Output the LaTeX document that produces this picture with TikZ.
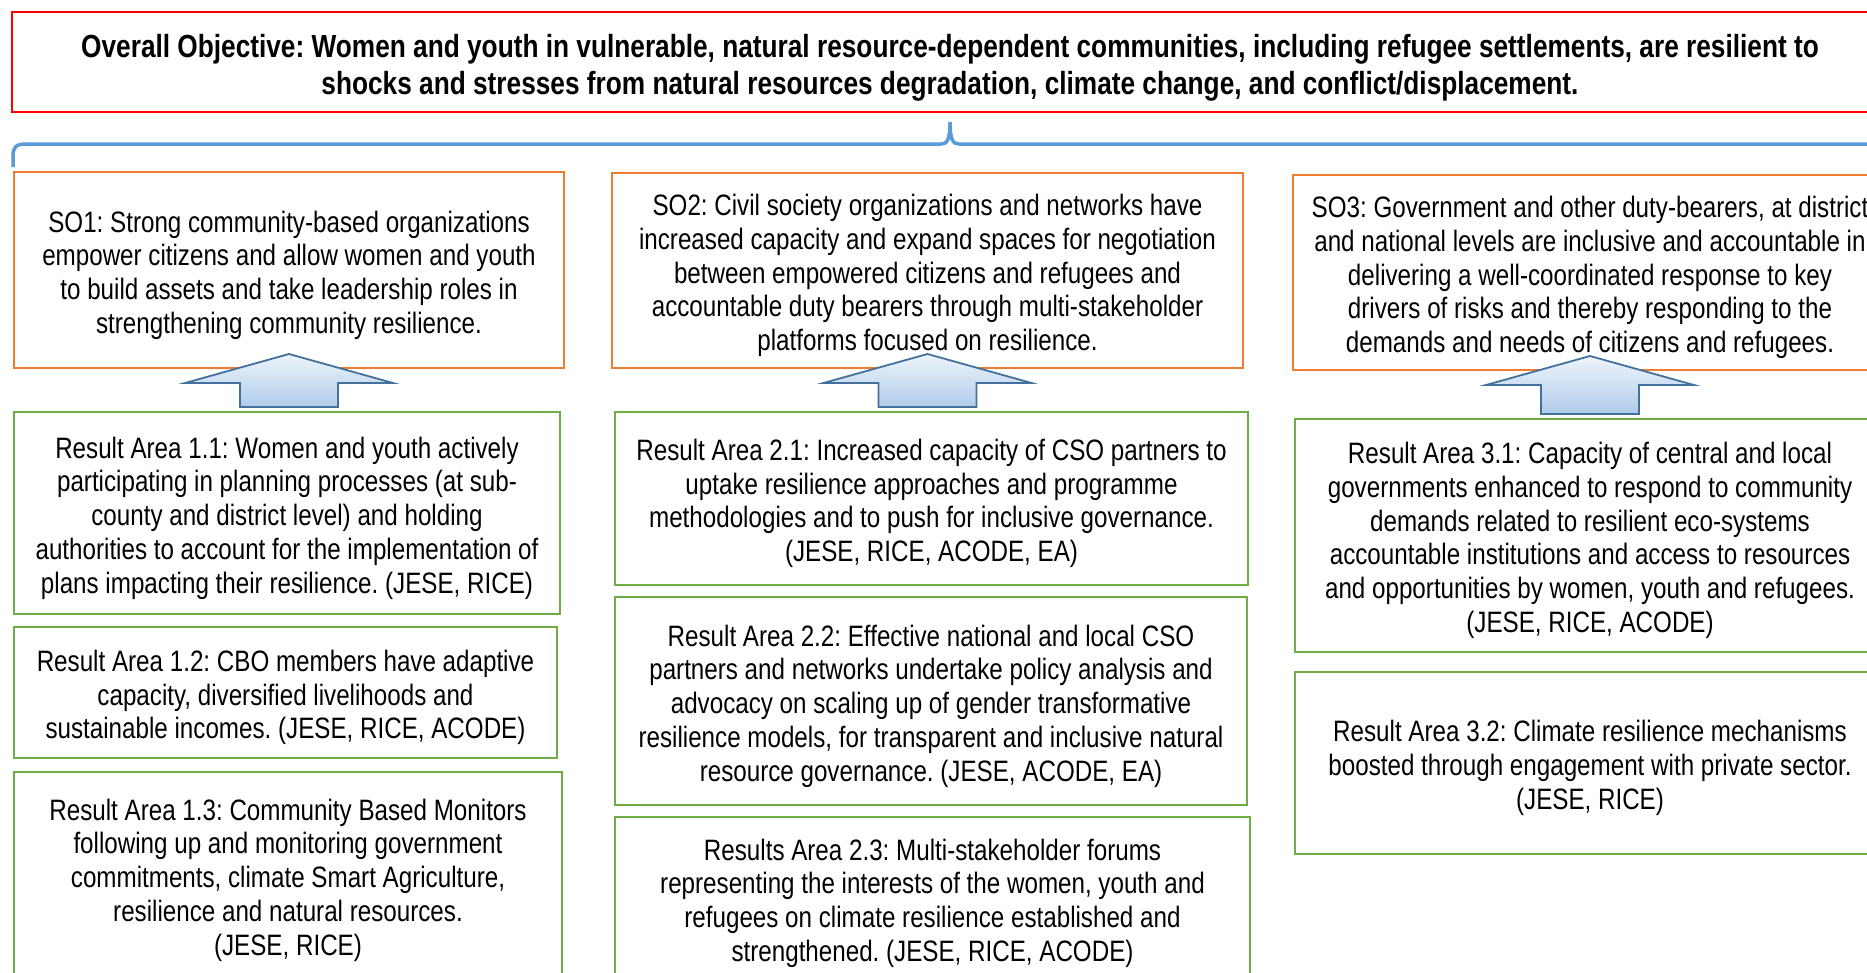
\documentclass[tikz,border=0pt]{standalone}
\usepackage{fontspec}
\setmainfont{Liberation Sans}[FakeStretch=0.82]
\usetikzlibrary{calc}
\frenchspacing

\definecolor{objred}{HTML}{FF0000}
\definecolor{soorange}{HTML}{ED7D31}
\definecolor{ragreen}{HTML}{70AD47}
\definecolor{braceblue}{HTML}{5B9BD5}
\definecolor{arrowedge}{HTML}{41719C}
\definecolor{arrowtop}{HTML}{EEF4FB}
\definecolor{arrowbottom}{HTML}{B0CCEA}

\newcommand\rabodyfont{\fontsize{29.5}{33.7}\selectfont}
\newcommand\objtitlefont{\fontsize{32}{37}\selectfont\bfseries}

% block arrow pointing up from the result area (#1) to the objective box (#2)
\newcommand\upblock[2]{%
  \path[upshade] let \p1=($(#1.north)+(0,4)$), \p2=($(#2.south)+(0,15)$) in
    (\x2-49pt,\y1) -- (\x2-49pt,\y2-29pt) -- (\x2-104pt,\y2-29pt) -- (\x2,\y2)
    -- (\x2+104pt,\y2-29pt) -- (\x2+49pt,\y2-29pt) -- (\x2+49pt,\y1) -- cycle;}

\begin{document}
\begin{tikzpicture}[x=1pt,y=1pt,
  frame/.style={rectangle, line width=2pt, inner sep=0pt},
  objective/.style={frame, draw=objred},
  sobox/.style={frame, draw=soorange},
  rabox/.style={frame, draw=ragreen},
  boxtext/.style={align=center, inner sep=0pt, font=\rabodyfont},
  titletext/.style={align=center, inner sep=0pt, font=\objtitlefont},
  upshade/.style={draw=arrowedge, line width=1.8pt, top color=arrowtop,
    bottom color=arrowbottom, line join=miter},
  bracket/.style={draw=braceblue, line width=3.5pt}]

\useasboundingbox (0,0) rectangle (1867,-972);
\clip (0,0) rectangle (1867,-972);

% overall objective
\node[objective, minimum width=1876pt, minimum height=100pt] (obj) at (950,-62) {};
\node[titletext] (obj-t) at ($(obj.center)+(0,-6)$)
  {Overall Objective: Women and youth in vulnerable, natural resource-dependent communities, including refugee settlements, are resilient to\\
   shocks and stresses from natural resources degradation, climate change, and conflict/displacement.};

% brace under the objective
\draw[bracket] (13,-167) -- (13,-156) .. controls (13,-147) and (16,-144) .. (26,-144)
  -- (941,-144) .. controls (947,-144) and (950,-140) .. (950,-122)
  .. controls (950,-140) and (953,-144) .. (959,-144) -- (1880,-144);

% strategic objectives
\node[sobox, minimum width=550pt, minimum height=196pt] (so1) at (289,-270) {};
\node[boxtext] (so1-t) at ($(so1.center)+(0,-5)$)
  {SO1: Strong community-based organizations\\
   empower citizens and allow women and youth\\
   to build assets and take leadership roles in\\
   strengthening community resilience.};
\node[sobox, minimum width=631pt, minimum height=195pt] (so2) at (927.5,-270.5) {};
\node[boxtext] (so2-t) at ($(so2.center)+(0,-5)$)
  {SO2: Civil society organizations and networks have\\
   increased capacity and expand spaces for negotiation\\
   between empowered citizens and refugees and\\
   accountable duty bearers through multi-stakeholder\\
   platforms focused on resilience.};
\node[sobox, minimum width=594pt, minimum height=195pt] (so3) at (1590,-272.5) {};
\node[boxtext] (so3-t) at ($(so3.center)+(0,-5)$)
  {SO3: Government and other duty-bearers, at district\\
   and national levels are inclusive and accountable in\\
   delivering a well-coordinated response to key\\
   drivers of risks and thereby responding to the\\
   demands and needs of citizens and refugees.};

% result areas, pillar 1
\node[rabox, minimum width=546pt, minimum height=202pt] (r11) at (287,-513) {};
\node[boxtext] (r11-t) at ($(r11.center)+(0,-5)$)
  {Result Area 1.1: Women and youth actively\\
   participating in planning processes (at sub-\\
   county and district level) and holding\\
   authorities to account for the implementation of\\
   plans impacting their resilience. (JESE, RICE)};
\node[rabox, minimum width=543pt, minimum height=131pt] (r12) at (285.5,-692.5) {};
\node[boxtext] (r12-t) at ($(r12.center)+(0,-5)$)
  {Result Area 1.2: CBO members have adaptive\\
   capacity, diversified livelihoods and\\
   sustainable incomes. (JESE, RICE, ACODE)};
\node[rabox, minimum width=548pt, minimum height=206pt] (r13) at (288,-875) {};
\node[boxtext] (r13-t) at ($(r13.center)+(0,-5)$)
  {Result Area 1.3: Community Based Monitors\\
   following up and monitoring government\\
   commitments, climate Smart Agriculture,\\
   resilience and natural resources.\\
   (JESE, RICE)};

% result areas, pillar 2
\node[rabox, minimum width=633pt, minimum height=173pt] (r21) at (931.5,-498.5) {};
\node[boxtext] (r21-t) at ($(r21.center)+(0,-5)$)
  {Result Area 2.1: Increased capacity of CSO partners to\\
   uptake resilience approaches and programme\\
   methodologies and to push for inclusive governance.\\
   (JESE, RICE, ACODE, EA)};
\node[rabox, minimum width=632pt, minimum height=208pt] (r22) at (931,-701) {};
\node[boxtext] (r22-t) at ($(r22.center)+(0,-5)$)
  {Result Area 2.2: Effective national and local CSO\\
   partners and networks undertake policy analysis and\\
   advocacy on scaling up of gender transformative\\
   resilience models, for transparent and inclusive natural\\
   resource governance. (JESE, ACODE, EA)};
\node[rabox, minimum width=635pt, minimum height=162pt] (r23) at (932.5,-898) {};
\node[boxtext] (r23-t) at ($(r23.center)+(0,-5)$)
  {Results Area 2.3: Multi-stakeholder forums\\
   representing the interests of the women, youth and\\
   refugees on climate resilience established and\\
   strengthened. (JESE, RICE, ACODE)};

% result areas, pillar 3
\node[rabox, minimum width=590pt, minimum height=233pt] (r31) at (1590,-535.5) {};
\node[boxtext] (r31-t) at ($(r31.center)+(0,-5)$)
  {Result Area 3.1: Capacity of central and local\\
   governments enhanced to respond to community\\
   demands related to resilient eco-systems\\
   accountable institutions and access to resources\\
   and opportunities by women, youth and refugees.\\
   (JESE, RICE, ACODE)};
\node[rabox, minimum width=591pt, minimum height=182pt] (r32) at (1590,-763) {};
\node[boxtext] (r32-t) at ($(r32.center)+(0,-5)$)
  {Result Area 3.2: Climate resilience mechanisms\\
   boosted through engagement with private sector.\\
   (JESE, RICE)};

% contribution arrows
\upblock{r11}{so1}
\upblock{r21}{so2}
\upblock{r31}{so3}

\end{tikzpicture}
\end{document}
